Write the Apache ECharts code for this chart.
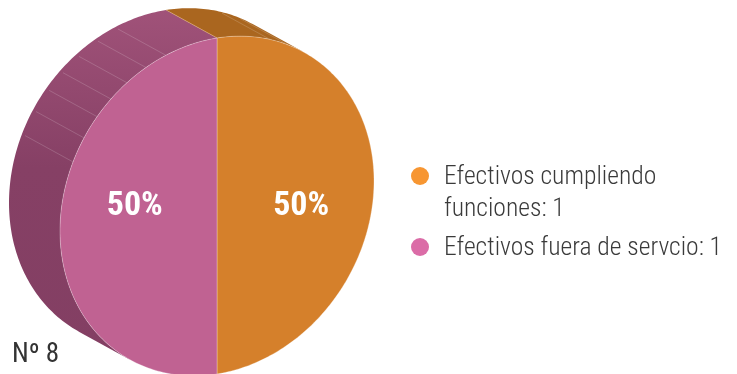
<!DOCTYPE html>
<html><head><meta charset="utf-8">
<style>html,body{margin:0;padding:0;background:#fff}#c{width:737px;height:374px}</style>
<script src="https://cdn.jsdelivr.net/npm/echarts@6/dist/echarts.min.js"></script>
</head><body><div id="c"></div>
<script>
var sliceNames = ['Efectivos cumpliendo\nfunciones: 1', 'Efectivos fuera de servcio: 1'];
var sliceValues = [1, 1];
var faceColors = ['#D5802B', '#C06292'];
var legendColors = ['#F79632', '#DB6CA7'];
var sideRibAngles = [[19.7, 27], [-19, -26.9, -35, -42.5, -49.8, -57.9, -66.5]];
var noteText = 'Nº 8';

var FONT = '"Liberation Sans Narrow","Roboto Condensed","Liberation Sans",sans-serif';
// projected disc geometry: P(t) = C + sin(t)*R + cos(t)*U, t clockwise from 12 o'clock
var C = [217, 206], R = [157, -25], U = [0, -168], V = [-51, -28];
function P(deg, off) {
  var t = deg * Math.PI / 180, s = Math.sin(t), c = Math.cos(t);
  return [C[0] + s * R[0] + c * U[0] + (off ? V[0] : 0), C[1] + s * R[1] + c * U[1] + (off ? V[1] : 0)];
}
function arc(a, b, off) {
  var pts = [], n = Math.max(2, Math.ceil(Math.abs(b - a)));
  for (var i = 0; i <= n; i++) pts.push(P(a + (b - a) * i / n, off));
  return pts;
}
var crossR = R[0] * V[1] - R[1] * V[0], crossU = U[0] * V[1] - U[1] * V[0];
var tangent = Math.atan(crossR / crossU) * 180 / Math.PI; // silhouette angle, 0..90
var total = sliceValues.reduce(function (a, b) { return a + b; }, 0);

function sideFill(i) {
  if (i === 0) return '#AA661F';
  return new echarts.graphic.LinearGradient(0, 0, 0, 1, [
    { offset: 0, color: '#A05279' }, { offset: 0.45, color: '#864065' }, { offset: 1, color: '#833F63' }
  ]);
}
function renderSlice(i) {
  return function (params, api) {
    var start = 0;
    for (var k = 0; k < i; k++) start += sliceValues[k] / total * 360;
    var sweep = api.value(0) / total * 360, end = start + sweep;
    var children = [];
    // visible part of the rim: from the seam on the upper edge to the silhouette tangent
    var sideA = i === 0 ? start : 180 + tangent, sideB = i === 0 ? tangent : end;
    var rim = arc(sideA, sideB, true).concat(arc(sideB, sideA, false));
    children.push({ type: 'polygon', shape: { points: rim }, style: { fill: sideFill(i) } });
    sideRibAngles[i].forEach(function (a) {
      var f = P(a), b = P(a, true);
      children.push({ type: 'line', shape: { x1: b[0] + (f[0] - b[0]) * 0.06, y1: b[1] + (f[1] - b[1]) * 0.06, x2: f[0], y2: f[1] },
        style: { stroke: 'rgba(255,255,255,0.24)', lineWidth: 0.7 } });
    });
    var seamF = P(i === 0 ? start : end), seamB = P(i === 0 ? start : end, true);
    children.push({ type: 'line', shape: { x1: seamB[0], y1: seamB[1], x2: seamF[0], y2: seamF[1] },
      style: { stroke: 'rgba(235,190,110,0.55)', lineWidth: 0.7 } });
    var face = [C].concat(arc(start, end, false));
    children.push({ type: 'polygon', shape: { points: face },
      style: { fill: faceColors[i], stroke: 'rgba(255,255,255,0.4)', lineWidth: 0.7 } });
    var mid = start + sweep / 2, lp = P(mid);
    children.push({ type: 'text', style: {
      text: Math.round(api.value(0) / total * 100) + '%',
      x: C[0] + (lp[0] - C[0]) * 0.53 + 1, y: C[1],
      align: 'center', verticalAlign: 'middle',
      fill: '#fff', font: 'bold 34px ' + FONT } });
    return { type: 'group', children: children };
  };
}

var chart = echarts.init(document.getElementById('c'), null, { renderer: 'canvas' });
chart.setOption({
  animation: false,
  backgroundColor: '#fff',
  title: { text: noteText, left: 12, top: 342, padding: 0,
    textStyle: { fontFamily: FONT, fontSize: 27, fontWeight: 'normal', color: '#333' } },
  legend: {
    orient: 'vertical', left: 411, top: 129, padding: 0, itemGap: 9,
    itemWidth: 18, itemHeight: 18, icon: 'circle', selectedMode: false,
    // a leading blank line per extra line keeps the marker level with the first line
    formatter: function (name) {
      var lines = name.split('\n'), out = [];
      for (var i = 1; i < lines.length; i++) out.push('{a| }');
      lines.forEach(function (l) { out.push('{a|' + l + '}'); });
      return out.join('\n');
    },
    textStyle: { rich: { a: { fontFamily: FONT, fontSize: 25.6, fontWeight: 300, color: '#3a3a3a', lineHeight: 32, padding: [4, 0, 0, 10] } } },
    data: [
      { name: sliceNames[0], itemStyle: { color: legendColors[0] } },
      { name: sliceNames[1], itemStyle: { color: legendColors[1] } }
    ]
  },
  series: sliceValues.map(function (v, i) {
    return { type: 'custom', name: sliceNames[i], coordinateSystem: 'none', silent: true,
      itemStyle: { color: legendColors[i] }, data: [[v]], renderItem: renderSlice(i) };
  })
});
</script></body></html>
